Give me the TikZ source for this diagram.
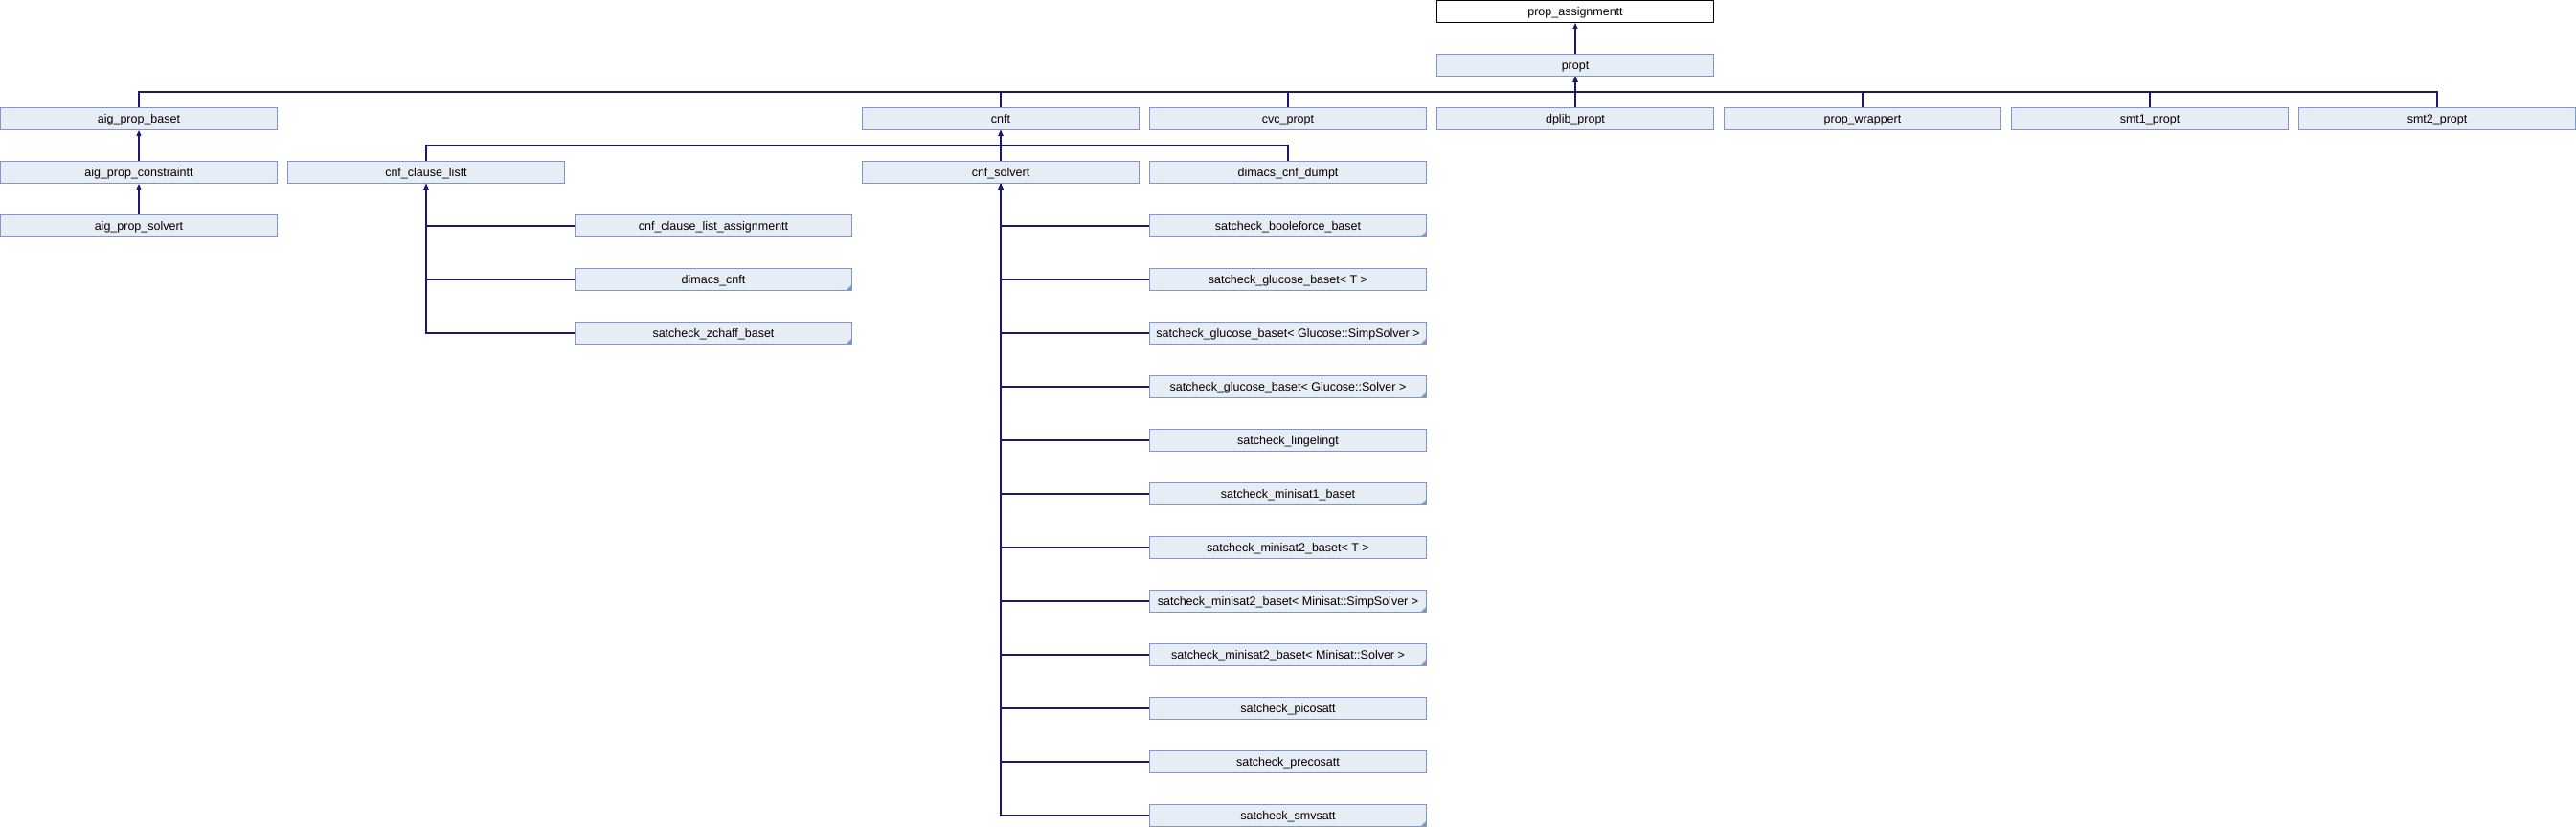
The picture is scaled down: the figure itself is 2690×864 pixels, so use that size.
\documentclass[tikz,border=0pt]{standalone}
\usepackage{fontspec}
\setmainfont{Liberation Sans}
\usetikzlibrary{arrows.meta}
\definecolor{nodefill}{RGB}{232,236,245}
\definecolor{nodeborder}{RGB}{124,150,206}
\definecolor{edgecol}{RGB}{25,25,112}
\tikzset{
  cls/.style={draw=nodeborder, fill=nodefill, line width=1pt, minimum width=289pt, minimum height=23pt, inner sep=0pt, text height=12pt, text depth=3pt, font=\fontsize{12.5}{14}\selectfont, anchor=center},
  rootcls/.style={cls, draw=black, fill=white},
  inh/.style={draw=edgecol, line width=1.1pt, -{Triangle[length=6pt,width=5pt]}},
}
\newcommand{\truncmark}[1]{\fill[nodeborder] ([shift={(-0.5,-0.5)}]#1.south east) -- ++(-6,0) -- ++(6,-6) -- cycle;}
\begin{document}
\begin{tikzpicture}[x=1pt,y=-1pt]
\useasboundingbox (0,0) rectangle (2690,864);
% row 0,1
\node[rootcls] (pa) at (1645,12) {prop\_assignmentt};
\node[cls] (propt) at (1645,68) {propt};
% row 2
\node[cls] (aigb) at (145,124) {aig\_prop\_baset};
\node[cls] (cnft) at (1045,124) {cnft};
\node[cls] (cvc) at (1345,124) {cvc\_propt};
\node[cls] (dplib) at (1645,124) {dplib\_propt};
\node[cls] (wrap) at (1945,124) {prop\_wrappert};
\node[cls] (smt1) at (2245,124) {smt1\_propt};
\node[cls] (smt2) at (2545,124) {smt2\_propt};
% row 3
\node[cls] (aigc) at (145,180) {aig\_prop\_constraintt};
\node[cls] (cl) at (445,180) {cnf\_clause\_listt};
\node[cls] (cs) at (1045,180) {cnf\_solvert};
\node[cls] (dump) at (1345,180) {dimacs\_cnf\_dumpt};
% row 4
\node[cls] (aigs) at (145,236) {aig\_prop\_solvert};
\node[cls] (cla) at (745,236) {cnf\_clause\_list\_assignmentt};
\node[cls] (s1) at (1345,236) {satcheck\_booleforce\_baset};
% rows 5-6 col2
\node[cls] (dcnf) at (745,292) {dimacs\_cnft};
\node[cls] (zchaff) at (745,348) {satcheck\_zchaff\_baset};
% col4 rows 5-15
\node[cls] (s2) at (1345,292) {satcheck\_glucose\_baset< T >};
\node[cls] (s3) at (1345,348) {satcheck\_glucose\_baset< Glucose::SimpSolver >};
\node[cls] (s4) at (1345,404) {satcheck\_glucose\_baset< Glucose::Solver >};
\node[cls] (s5) at (1345,460) {satcheck\_lingelingt};
\node[cls] (s6) at (1345,516) {satcheck\_minisat1\_baset};
\node[cls] (s7) at (1345,572) {satcheck\_minisat2\_baset< T >};
\node[cls] (s8) at (1345,628) {satcheck\_minisat2\_baset< Minisat::SimpSolver >};
\node[cls] (s9) at (1345,684) {satcheck\_minisat2\_baset< Minisat::Solver >};
\node[cls] (s10) at (1345,740) {satcheck\_picosatt};
\node[cls] (s11) at (1345,796) {satcheck\_precosatt};
\node[cls] (s12) at (1345,852) {satcheck\_smvsatt};
% truncation marks
\foreach \n in {dcnf,zchaff,s1,s3,s4,s6,s8,s9,s12} {\truncmark{\n}}
% bus coordinates
\coordinate (b1) at (1645,96);
\coordinate (b2) at (1045,152);
% edges
\draw[inh] (propt.north) -- (pa.south);
\foreach \c in {aigb,cnft,cvc,dplib,wrap,smt1,smt2} {\draw[inh] (\c.north) |- (b1) -- (propt.south);}
\foreach \c in {cl,cs,dump} {\draw[inh] (\c.north) |- (b2) -- (cnft.south);}
\draw[inh] (aigc.north) -- (aigb.south);
\draw[inh] (aigs.north) -- (aigc.south);
\foreach \c in {cla,dcnf,zchaff} {\draw[inh] (\c.west) -| (cl.south);}
\foreach \c in {s1,s2,s3,s4,s5,s6,s7,s8,s9,s10,s11,s12} {\draw[inh] (\c.west) -| (cs.south);}
\end{tikzpicture}
\end{document}
